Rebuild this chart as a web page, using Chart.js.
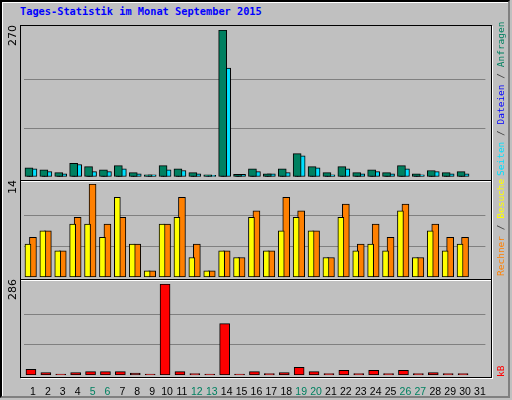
<!DOCTYPE html>
<html><head><meta charset="utf-8">
<script src="https://cdn.jsdelivr.net/npm/chart.js@4"></script>
<style>
body{margin:0;width:512px;height:400px;overflow:hidden;background:#c0c0c0;position:relative;font-family:"DejaVu Sans Mono",monospace}
#outer{position:absolute;left:0;top:0;width:506px;height:394px;border-left:2px solid #000;border-top:2px solid #000;border-right:2px solid #808080;border-bottom:2px solid #808080;box-shadow:inset 1px 1px 0 #fff}
#title{position:absolute;left:20px;top:5px;font:bold 10.3px "DejaVu Sans Mono";color:#0000ff;white-space:nowrap}
#frame{position:absolute;left:20px;top:25px;width:470px;height:351px;border:1px solid #000;box-shadow:1px 1px 0 #fff}
.sep{position:absolute;left:21px;width:470px;height:1px;background:#000;box-shadow:0 1px 0 #fff}
canvas{position:absolute;left:0}
.rl{position:absolute;transform-origin:0 0;transform:rotate(-90deg);white-space:nowrap;font:9.5px "DejaVu Sans Mono"}
.ll{position:absolute;transform-origin:0 0;transform:rotate(-90deg);white-space:nowrap;font:11px "DejaVu Sans";color:#000;text-align:right}
</style></head><body>
<div id="outer"></div>
<div id="title">Tages-Statistik im Monat September 2015</div>
<div id="frame"></div>
<div class="sep" style="top:180px"></div>
<div class="sep" style="top:279px"></div>
<canvas id="c1" width="512" height="155" style="top:25px"></canvas>
<canvas id="c2" width="512" height="98" style="top:181px"></canvas>
<canvas id="c3" width="512" height="120" style="top:280px"></canvas>
<div class="ll" id="m1" style="left:6px;top:46px;width:20px"></div>
<div class="ll" id="m2" style="left:6px;top:200px;width:20px"></div>
<div class="ll" id="m3" style="left:6px;top:300px;width:20px"></div>
<div class="rl" style="left:495px;top:176px"><span style="color:#00e0ff">Seiten</span><span style="color:#404040"> / </span><span style="color:#0000ff">Dateien</span><span style="color:#404040"> / </span><span style="color:#008060">Anfragen</span></div>
<div class="rl" style="left:495px;top:276px"><span style="color:#ff8000">Rechner</span><span style="color:#404040"> / </span><span style="color:#ffff00">Besuche</span></div>
<div class="rl" style="left:495px;top:377px"><span style="color:#ff0000">kB</span></div>
<script>
const days = Array.from({length:31},(_,i)=>String(i+1));
const weekendDays = [5,6,12,13,19,20,26,27];
const hits  = [17,13,8,25,19,13,21,8,4,21,15,8,4,270,5,15,6,15,43,19,8,19,8,13,8,21,6,12,8,10,0];
const files = [15,10,6,23,10,10,15,6,4,13,12,6,3,200,5,10,6,8,39,17,4,15,6,10,6,15,4,10,6,6,0];
const pages = [13,4,4,7,7,6,6,4,1,17,6,4,1,5,4,8,4,5,6,6,3,5,4,10,4,6,3,5,4,4,0];
const visits= [5,7,4,8,8,6,12,5,1,8,9,3,1,4,3,9,4,7,9,7,3,9,4,5,4,10,3,7,4,5,0];
const sites = [6,7,4,9,14,8,9,5,1,8,12,5,1,4,3,10,4,12,10,7,3,11,5,8,6,11,3,8,6,6,0];
const kbytes= [19,9,4,9,12,12,12,7,4,286,12,6,4,162,4,12,6,9,25,12,6,16,6,16,6,16,6,9,6,6,0];

Chart.defaults.animation=false;
Chart.defaults.font.family="Liberation Sans";
const shiftPlugin={id:'shift',
  beforeDatasetDraw(chart,args){const dx=chart.data.datasets[args.index].dx||0;chart.ctx.save();chart.ctx.translate(dx,0);},
  afterDatasetDraw(chart){chart.ctx.restore();}};
const pad={left:23.5,right:26.6};
function yAxis(max){return {display:true,min:0,max:max,border:{display:false},
  ticks:{display:false},afterBuildTicks:s=>{s.ticks=[0,max/3,2*max/3,max].map(v=>({value:v}));},
  grid:{drawTicks:false,color:c=>(c.index===1||c.index===2)?'#808080':'rgba(0,0,0,0)',lineWidth:1}};}
function mk(id,datasets,max,showX,padTB){
  return new Chart(document.getElementById(id),{type:'bar',
    data:{labels:days,datasets:datasets},plugins:[shiftPlugin],
    options:{responsive:false,devicePixelRatio:1,events:[],
      layout:{padding:{left:pad.left,right:pad.right,top:padTB[0],bottom:padTB[1]}},
      plugins:{legend:{display:false},tooltip:{enabled:false}},
      datasets:{bar:{borderColor:'#000',borderWidth:1,borderSkipped:false,grouped:false}},
      scales:{x:{display:showX,grid:{display:false},border:{display:false},
        ticks:{autoSkip:false,maxRotation:0,minRotation:0,padding:2,labelOffset:2,font:{size:10.5},
          color:c=>weekendDays.includes(c.index+1)?'#008060':'#000'}},
        y:yAxis(max)}}});
}
const m1=Math.max(...hits), m2=Math.max(...sites,...visits), m3=Math.max(...kbytes);
mk('c1',[
  {data:hits,backgroundColor:'#008060',barThickness:8,dx:-2},
  {data:pages,backgroundColor:'#0000ff',barThickness:3,dx:-2.5},
  {data:files,backgroundColor:'#00e0ff',barThickness:8,dx:2}],m1,false,[5,3]);
mk('c2',[
  {data:visits,backgroundColor:'#ffff00',barThickness:6,dx:-3},
  {data:sites,backgroundColor:'#ff8000',barThickness:7,dx:2}],m2,false,[3,1.5]);
mk('c3',[
  {data:kbytes,backgroundColor:'#ff0000',barThickness:10,dx:0}],m3,true,[4,0]);
document.getElementById('m1').textContent=m1;
document.getElementById('m2').textContent=m2;
document.getElementById('m3').textContent=m3;
</script></body></html>
